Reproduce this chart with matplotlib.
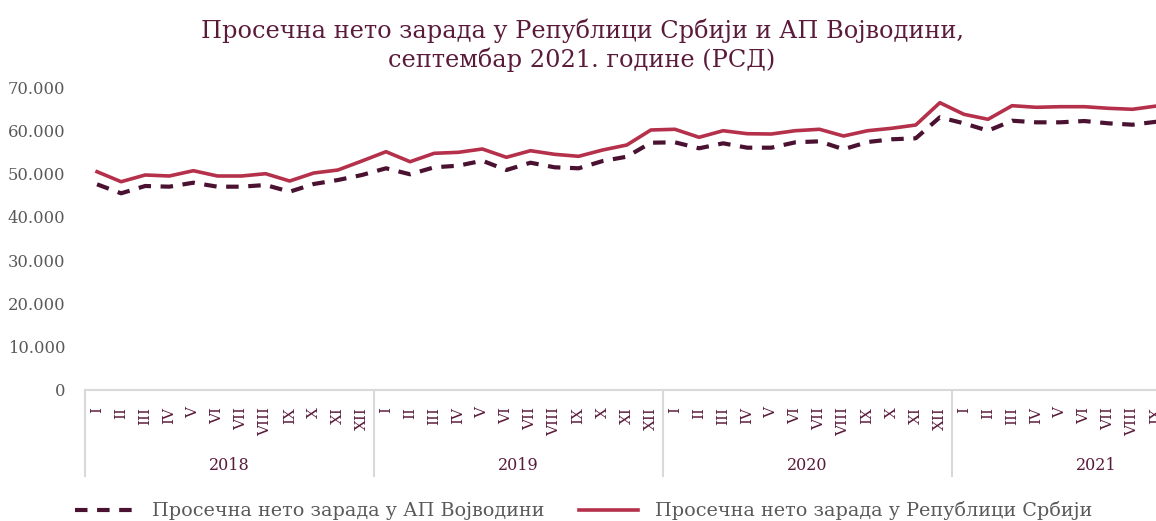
import matplotlib
matplotlib.use("Agg")
from matplotlib import pyplot as plt
from matplotlib import transforms

months = ["I", "II", "III", "IV", "V", "VI", "VII", "VIII", "IX", "X", "XI", "XII"]
years = ["2018", "2019", "2020", "2021"]
month_labels = months * 3 + months[:9]

serbia = [
    50430, 48120, 49670, 49440, 50660, 49440, 49440, 49970, 48280, 50130, 50820, 52900,
    55050, 52740, 54680, 54910, 55680, 53760, 55280, 54450, 53990, 55450, 56600, 60070,
    60230, 58380, 59900, 59210, 59140, 59900, 60230, 58680, 59900, 60460, 61220, 66370,
    63690, 62540, 65680, 65310, 65450, 65450, 65080, 64850, 65610,
]
vojvodina = [
    47520, 45440, 47130, 46970, 47890, 46970, 46970, 47360, 45810, 47590, 48510, 49670,
    51220, 49830, 51450, 51820, 52970, 50820, 52510, 51450, 51220, 52900, 53900, 57130,
    57220, 55840, 56990, 55980, 55980, 57220, 57450, 55610, 57290, 57920, 58150, 63000,
    61610, 59900, 62210, 61840, 61840, 62140, 61610, 61290, 61980,
]

title_color = "#5a1a3a"
red = "#b5304a"
dark = "#4a1230"
grey = "#595959"
line_grey = "#d9d9d9"

plt.rcParams["font.family"] = ["DejaVu Serif"]

fig = plt.figure(figsize=(11.56, 5.21), dpi=100)
W, H = 1156, 521
ax = fig.add_axes([85 / W, (H - 390) / H, 45 * 24.08 / W, 303 / H])

x = list(range(len(serbia)))
ax.plot(x, vojvodina, color=dark, lw=3, ls=(0, (3, 2.3)), label="Просечна нето зарада у АП Војводини")
ax.plot(x, serbia, color=red, lw=2.6, label="Просечна нето зарада у Републици Србији")

ax.set_xlim(-0.5, 44.5)
ax.set_ylim(0, 70000)
yt = list(range(0, 70001, 10000))
ax.set_yticks(yt)
ax.set_yticklabels([f"{v:,}".replace(",", ".") for v in yt], color=grey, fontsize=11.8)
ax.tick_params(axis="y", length=0, pad=14)

ax.set_xticks(x)
ax.set_xticklabels(month_labels, rotation=90, color=title_color, fontsize=11, va="top", ha="center")
ax.tick_params(axis="x", length=0, pad=12)

for s in ["top", "right", "left"]:
    ax.spines[s].set_visible(False)
ax.spines["bottom"].set_color(line_grey)
ax.spines["bottom"].set_linewidth(1.5)

# year groups under the month labels
trans = transforms.blended_transform_factory(ax.transData, ax.transAxes)
for i in range(4):
    ax.plot([i * 12 - 0.5, i * 12 - 0.5], [0, -86 / 303], color=line_grey, lw=1.5,
            transform=trans, clip_on=False)
    ax.text(i * 12 + 5.5, -76 / 303, years[i], transform=trans, ha="center", va="center",
            color=title_color, fontsize=11.5)

fig.text(582 / W, 1 - 45 / H,
         "Просечна нето зарада у Републици Србији и АП Војводини,\nсептембар 2021. године (РСД)",
         ha="center", va="center", color=title_color, fontsize=17.3, linespacing=1.25)

fig.legend(loc="center", bbox_to_anchor=(584 / W, 1 - 511 / H), ncol=2, frameon=False,
           fontsize=13.8, labelcolor=grey, handlelength=3.1, columnspacing=1.8, handletextpad=0.9)

fig.savefig("out.png", dpi=100)
